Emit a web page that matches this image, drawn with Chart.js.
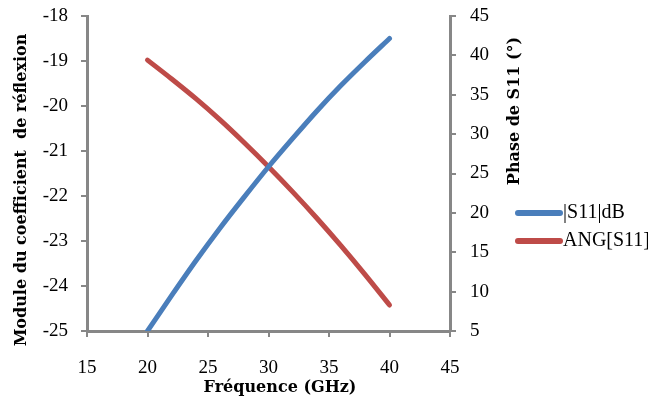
<!DOCTYPE html>
<html>
<head>
<meta charset="utf-8">
<script src="https://cdn.jsdelivr.net/npm/chart.js@4/dist/chart.umd.min.js"></script>
<style>
  html, body { margin: 0; padding: 0; background: #fff; }
  #wrap { width: 648px; height: 401px; position: relative; }
</style>
</head>
<body>
<div id="wrap"><canvas id="c" width="648" height="401"></canvas></div>
<script>
// Fréquence (GHz)
const freqs = [20, 22, 24, 26, 28, 30, 32, 34, 36, 38, 40];
// |S11| en dB (axe gauche)
const s11dB = [-25.0, -24.21, -23.44, -22.71, -22.02, -21.35, -20.72, -20.11, -19.54, -19.01, -18.5];
// Phase de S11 en degrés (axe droit)
const s11Ang = [39.4, 37.0, 34.5, 31.8, 28.9, 25.86, 22.67, 19.32, 15.81, 12.13, 8.3];

const seriesNames = ['|S11|dB', 'ANG[S11]'];
const seriesColors = ['#4A7EBB', '#BE4B48'];

const xTitle = 'Fréquence (GHz)';
const yLeftTitle = 'Module du coefficient  de réflexion';
const yRightTitle = 'Phase de S11 (°)';

const axisGray = '#878787';
const tickFont = { family: 'Liberation Serif', size: 19 };
const titleFont = 'bold 16px "DejaVu Serif"';

const pts = (ys) => freqs.map((f, i) => ({ x: f, y: ys[i] }));

// pin the axis boxes so the plot area lands where Excel put it
const fitY = (w) => (s) => { s.width = w; s.paddingTop = 0; s.paddingBottom = 0; };

// titles + legend drawn by hand so they sit where Excel put them
const decor = {
  id: 'decor',
  afterDraw(chart) {
    const c = chart.ctx;
    c.save();
    c.fillStyle = '#000';
    c.font = titleFont;
    c.textAlign = 'center';
    c.textBaseline = 'middle';
    c.fillText(xTitle, 280, 388);

    c.save();
    c.translate(22, 190);
    c.rotate(-Math.PI / 2);
    c.fillText(yLeftTitle, 0, 0);
    c.restore();

    c.save();
    c.translate(515, 111);
    c.rotate(-Math.PI / 2);
    c.fillText(yRightTitle, 0, 0);
    c.restore();

    // legend
    c.font = '20px "Liberation Serif"';
    c.textAlign = 'left';
    chart.data.datasets.forEach((ds, i) => {
      const y = 213 + i * 28;
      c.strokeStyle = ds.borderColor;
      c.lineWidth = 6;
      c.lineCap = 'round';
      c.beginPath();
      c.moveTo(518, y);
      c.lineTo(560, y);
      c.stroke();
      c.fillText(ds.label, 563, y);
    });
    c.restore();
  }
};

new Chart(document.getElementById('c'), {
  type: 'line',
  data: {
    datasets: [
      { label: seriesNames[0], data: pts(s11dB), yAxisID: 'y', borderColor: seriesColors[0],
        borderWidth: 5, pointRadius: 0, cubicInterpolationMode: 'monotone', borderCapStyle: 'round' },
      { label: seriesNames[1], data: pts(s11Ang), yAxisID: 'y2', borderColor: seriesColors[1],
        borderWidth: 5, pointRadius: 0, cubicInterpolationMode: 'monotone', borderCapStyle: 'round' }
    ]
  },
  options: {
    responsive: false,
    animation: false,
    layout: { padding: { top: 16, left: 0, right: 0, bottom: 0 } },
    plugins: { legend: { display: false }, tooltip: { enabled: false } },
    scales: {
      x: {
        type: 'linear', min: 15, max: 45,
        afterFit: (s) => { s.height = 70; s.paddingLeft = 0; s.paddingRight = 0; },
        ticks: { stepSize: 5, color: '#000', font: tickFont, padding: 20, maxRotation: 0 },
        grid: { drawOnChartArea: false, color: axisGray, lineWidth: 2, tickLength: 6 },
        border: { color: axisGray, width: 3 }
      },
      y: {
        position: 'left', min: -25, max: -18,
        afterFit: fitY(87),
        ticks: { stepSize: 1, color: '#000', font: tickFont, padding: 13 },
        grid: { drawOnChartArea: false, color: axisGray, lineWidth: 2, tickLength: 6 },
        border: { color: axisGray, width: 3 }
      },
      y2: {
        position: 'right', min: 5, max: 45,
        afterFit: fitY(198),
        ticks: { stepSize: 5, color: '#000', font: tickFont, padding: 14 },
        grid: { drawOnChartArea: false, color: axisGray, lineWidth: 2, tickLength: 6 },
        border: { color: axisGray, width: 3 }
      }
    }
  },
  plugins: [decor]
});
</script>
</body>
</html>
